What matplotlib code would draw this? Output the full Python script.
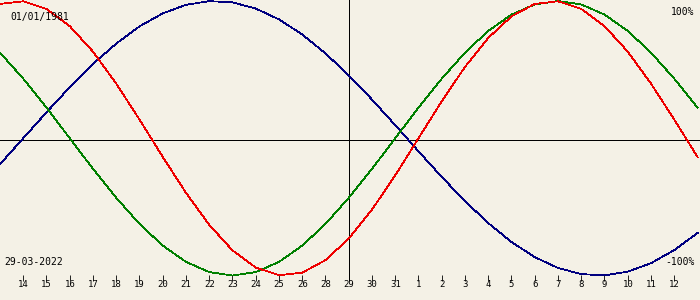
import matplotlib
matplotlib.use("Agg")
import matplotlib.pyplot as plt
import numpy as np

# Day positions (index 0 = first labelled day); curves sampled daily from index -1 to 29
day_index = list(range(-1, 30))
tick_labels = ["14", "15", "16", "17", "18", "19", "20", "21", "22", "23", "24", "25", "26",
               "28", "29", "30", "31", "1", "2", "3", "4", "5", "6", "7", "8", "9", "10", "11", "12"]
today_index = 14

physical = [0.979, 0.998, 0.942, 0.817, 0.631, 0.398, 0.136, -0.136, -0.398, -0.631, -0.817,
            -0.942, -0.998, -0.979, -0.888, -0.731, -0.520, -0.270, 0.000, 0.270, 0.520, 0.731,
            0.888, 0.979, 0.998, 0.942, 0.817, 0.631, 0.398, 0.136, -0.136]
emotional = [0.624, 0.434, 0.223, 0.000, -0.223, -0.434, -0.624, -0.782, -0.901, -0.975, -1.000,
             -0.975, -0.901, -0.782, -0.624, -0.434, -0.223, 0.000, 0.223, 0.434, 0.624, 0.782,
             0.901, 0.975, 1.000, 0.975, 0.901, 0.782, 0.624, 0.434, 0.223]
intellectual = [-0.189, 0.000, 0.189, 0.372, 0.541, 0.690, 0.815, 0.910, 0.972, 0.999, 0.990,
                0.945, 0.866, 0.756, 0.618, 0.458, 0.282, 0.095, -0.095, -0.282, -0.458, -0.618,
                -0.756, -0.866, -0.945, -0.990, -0.999, -0.972, -0.910, -0.815, -0.690]

birth_text = "01/01/1981"
date_text = "29-03-2022"
top_text = "100%"
bottom_text = "-100%"

bg = "#f4f1e6"
W, H = 700, 300
fig = plt.figure(figsize=(W / 100, H / 100), dpi=100, facecolor=bg)
ax_h = 281
ax = fig.add_axes([0, (H - ax_h) / H, 1, ax_h / H], facecolor=bg)

step = 23.25
ax.set_xlim(-1, W / step - 1)
center, amp = 138.25, 137.25
ax.set_ylim((center - ax_h) / amp, center / amp)

for s in ax.spines.values():
    s.set_visible(False)

lw = 0.55
ax.axhline((center - 140) / amp, color="black", lw=lw, antialiased=False, zorder=1)
ax.axvline(today_index, color="black", lw=lw, antialiased=False, zorder=1)

ax.plot(day_index, intellectual, color="#000080", lw=lw, antialiased=False, zorder=3)
ax.plot(day_index, emotional, color="#008000", lw=lw, antialiased=False, zorder=3)
ax.plot(day_index, physical, color="#ee0000", lw=lw, antialiased=False, zorder=3)

ax.set_xticks(range(len(tick_labels)))
ax.set_xticklabels(tick_labels, family="DejaVu Sans Mono", fontsize=6.5)
ax.tick_params(axis="x", direction="in", length=4.5, width=0.6, pad=-1, color="black")
ax.set_yticks([])

def ftext(px, py, s, ha="left"):
    fig.text(px / W, 1 - py / H, s, ha=ha, va="center", family="DejaVu Sans Mono",
             fontsize=7, color="black")

ftext(10, 17, birth_text)
ftext(694, 12, top_text, ha="right")
ftext(4, 262, date_text)
ftext(695, 262, bottom_text, ha="right")

fig.savefig("out.png", dpi=100, facecolor=bg)
